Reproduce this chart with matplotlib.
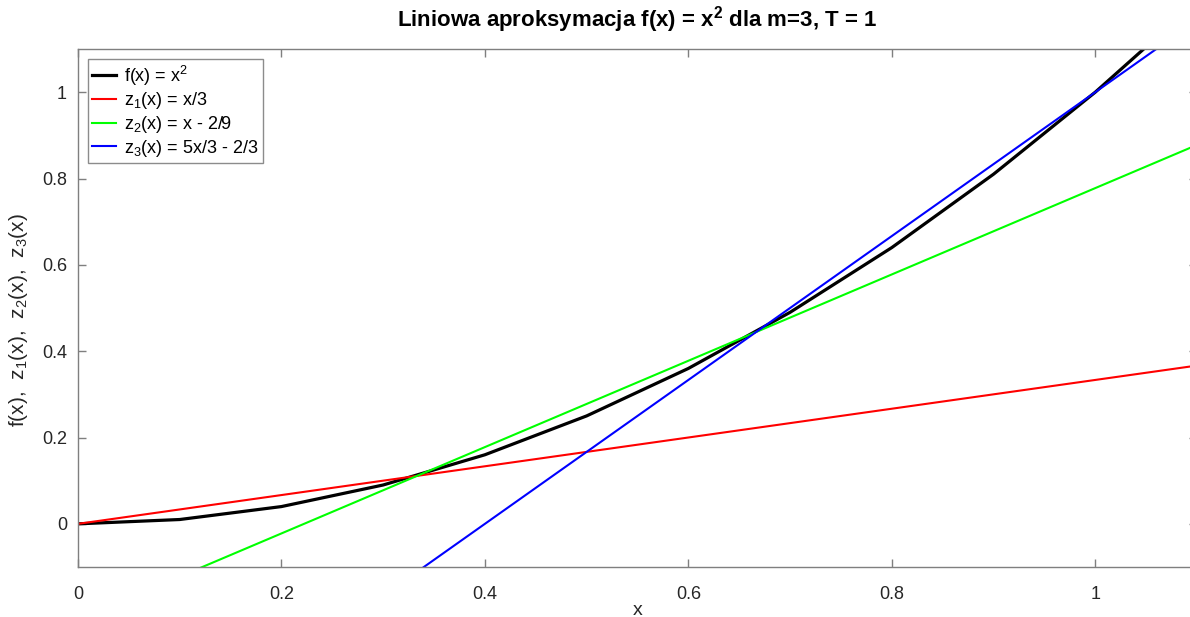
import numpy as np
import matplotlib.pyplot as plt

plt.rcParams['font.family'] = ['Liberation Sans', 'DejaVu Sans']
plt.rcParams['mathtext.fontset'] = 'custom'
plt.rcParams['mathtext.rm'] = 'Liberation Sans'
plt.rcParams['mathtext.it'] = 'Liberation Sans'
plt.rcParams['mathtext.bf'] = 'Liberation Sans:bold'

# data: f(x) sampled at step 0.1, approximating lines
x = np.array([0.0, 0.1, 0.2, 0.3, 0.4, 0.5, 0.6, 0.7, 0.8, 0.9, 1.0, 1.1])
f = x**2
z1 = x / 3
z2 = x - 2/9
z3 = 5*x/3 - 2/3

labels = ['f(x) = x$^2$', 'z$_1$(x) = x/3', 'z$_2$(x) = x - 2/9', 'z$_3$(x) = 5x/3 - 2/3']
colors = ['black', 'red', '#00ff00', 'blue']
ticks = [0, 0.2, 0.4, 0.6, 0.8, 1]
tick_labels = ['0', '0.2', '0.4', '0.6', '0.8', '1']

fig = plt.figure(figsize=(11.9, 6.17), dpi=100)
# axes runs a little past the right edge, as in the reference
ax = fig.add_axes([78/1190, 50/617, 1119/1190, 518/617])

ax.plot(x, f, color=colors[0], linewidth=2.3, label=labels[0])
ax.plot(x, z1, color=colors[1], linewidth=1.5, label=labels[1])
ax.plot(x, z2, color=colors[2], linewidth=1.5, label=labels[2])
ax.plot(x, z3, color=colors[3], linewidth=1.5, label=labels[3])

ax.set_xlim(0, 1.1)
ax.set_ylim(-0.1, 1.1)
ax.set_xticks(ticks)
ax.set_xticklabels(tick_labels)
ax.set_yticks(ticks)
ax.set_yticklabels(tick_labels)

for s in ax.spines.values():
    s.set_color('#7f7f7f')
    s.set_linewidth(1.0)
ax.tick_params(direction='in', top=True, right=True, length=6, width=1.0,
               color='#7f7f7f', labelcolor='#262626', labelsize=13)
ax.tick_params(axis='x', pad=14)
ax.tick_params(axis='y', pad=8)

ax.set_xlabel('x', fontsize=14, color='#262626', labelpad=-1)
ax.set_ylabel('f(x),  z$_1$(x),  z$_2$(x),  z$_3$(x)', fontsize=15, color='#262626')
ax.yaxis.set_label_coords(-0.043, 0.477)
ax.set_title('Liniowa aproksymacja f(x) = x$^\\mathbf{2}$ dla m=3, T = 1',
             fontsize=16, fontweight='bold', pad=16)

leg = ax.legend(loc='upper left', fontsize=13, fancybox=False, framealpha=1,
                edgecolor='#8c8c8c', borderaxespad=0.55, handlelength=1.3,
                handletextpad=0.45, labelspacing=0.15, borderpad=0.25)
leg.get_frame().set_linewidth(1.0)

fig.savefig('out.png', dpi=100)
